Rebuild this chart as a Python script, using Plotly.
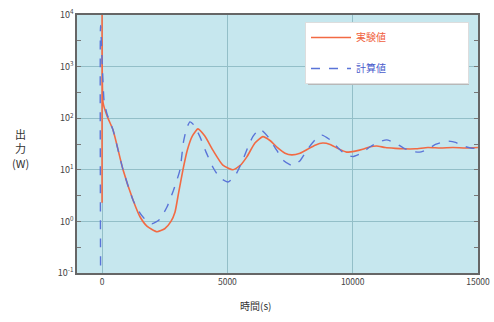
import plotly.graph_objects as go

# 実験値 (experiment)
t_exp = [0, 0, 40, 200, 438, 837, 1235, 1514, 1800, 2190, 2500, 2750, 2909, 3050, 3227,
         3400, 3600, 3825, 4100, 4422, 4820, 5220, 5500, 5777, 6100, 6415, 6700, 7000,
         7300, 7570, 7900, 8200, 8500, 8805, 9100, 9400, 9760, 10100, 10400, 10700, 10956,
         11300, 11700, 12000, 12500, 13000, 13500, 14000, 14500, 15000]
p_exp = [2.3, 20000, 200, 110, 59, 10, 2.6, 1.23, 0.8, 0.63, 0.72, 1.0, 1.5, 3.5, 10,
         24, 45, 62, 45, 24, 12.3, 10, 12, 17.8, 33, 44, 37, 27,
         21, 19.5, 21, 25, 30, 33, 31, 26, 22, 23, 25, 28, 29,
         27, 26, 25.5, 25.5, 27, 26.5, 27, 26.5, 27]

# 計算値 (calculation)
t_calc = [-60, -60, 80, 200, 438, 837, 1235, 1514, 1750, 1990, 2300, 2590, 2850, 3108,
          3250, 3380, 3506, 3650, 3904, 4150, 4422, 4700, 5020, 5300, 5617, 5800, 6016,
          6295, 6600, 6900, 7250, 7610, 7900, 8200, 8500, 8765, 9100, 9400, 9700, 10000,
          10350, 10700, 11000, 11355, 11700, 12000, 12300, 12670, 13000, 13300, 13785,
          14100, 14400, 14800, 15000]
p_calc = [0.14, 6300, 220, 120, 59, 10, 2.6, 1.45, 1.05, 0.9, 1.1, 1.9, 4, 10,
          35, 65, 85, 75, 44, 22, 11.2, 7, 5.8, 7.5, 15.5, 26, 44,
          62, 45, 27, 15, 12, 15, 25, 38, 47, 38, 27, 20, 18,
          21, 28, 34, 38, 33, 27, 23, 22, 25, 31, 36,
          34, 29, 26, 27.5]

y_ticks = [0.1, 1, 10, 100, 1000, 10000]
y_ticktext = ["10<sup>-1</sup>", "10<sup>0</sup>", "10<sup>1</sup>", "10<sup>2</sup>",
              "10<sup>3</sup>", "10<sup>4</sup>"]
y_minor = [0.316, 3.16, 31.6, 316, 3160]
x_ticks = [0, 5000, 10000, 15000]

pad = "&nbsp;" * 34
fig = go.Figure()
fig.add_trace(go.Scatter(
    x=t_exp, y=p_exp, mode="lines", name="<span style='color:#f0603c'>実験値</span>" + pad,
    line=dict(color="#f26a43", width=1.6, shape="spline", smoothing=0.5),
    legendgroup="a"))
fig.add_trace(go.Scatter(
    x=t_calc, y=p_calc, mode="lines", name="<span style='color:#4a5ccc'>計算値</span>" + pad,
    line=dict(color="#5a74d8", width=1.4, dash="dash", shape="spline", smoothing=0.5),
    legendgroup="b"))

font = "Noto Sans CJK JP"
L, R, T, B = 77, 16, 15, 49
W, H = 494, 322
pw, ph = W - L - R, H - T - B

def px(x):
    return (x - L) / pw

def py(y):
    return (H - B - y) / ph

fig.update_layout(
    width=W, height=H,
    margin=dict(l=L, r=R, t=T, b=B),
    paper_bgcolor="white", plot_bgcolor="#c6e7ee",
    font=dict(family=font, size=9, color="#444"),
    showlegend=True,
    legend=dict(x=px(305), y=py(22), xanchor="left", yanchor="top",
                bgcolor="white", bordercolor="#dddddd", borderwidth=1,
                font=dict(family=font, size=10), tracegroupgap=12,
                itemwidth=40),
    xaxis=dict(range=[-1000, 15000], tickvals=x_ticks, ticktext=["0", "5000", "10000", "15000"],
               automargin=False,
               showgrid=True, gridcolor="#93bfc8", gridwidth=1, zeroline=False,
               showline=True, linecolor="#666", linewidth=1.5, mirror=True,
               ticks="", tickfont=dict(size=8.5, color="#444")),
    yaxis=dict(type="log", range=[-1, 4], tickvals=y_ticks, ticktext=y_ticktext,
               automargin=False,
               showgrid=True, gridcolor="#93bfc8", gridwidth=1, zeroline=False,
               showline=True, linecolor="#666", linewidth=1.5, mirror="ticks",
               ticks="inside", ticklen=4, tickcolor="#777",
               minor=dict(tickvals=y_minor, ticks="inside", ticklen=4, tickcolor="#777", showgrid=False),
               tickfont=dict(size=9, color="#444")),
)
# legend drop shadow
fig.add_shape(type="rect", xref="paper", yref="paper", x0=px(308), x1=px(469),
              y0=py(85), y1=py(25), fillcolor="#b8b8b8", line=dict(width=0), layer="above")
fig.add_annotation(text="出<br>力<br>(W)", xref="paper", yref="paper", x=px(20), y=py(148),
                   xanchor="center", yanchor="middle",
                   showarrow=False, font=dict(family=font, size=11, color="#333"), align="center")
fig.add_annotation(text="時間(s)", xref="paper", yref="paper", x=px(255), y=py(305),
                   xanchor="center", yanchor="middle", showarrow=False,
                   font=dict(family=font, size=10, color="#333"))
fig.write_html("out.html", config={"displayModeBar": False},
               post_script="document.body.style.margin='0';document.body.style.overflow='hidden';")
